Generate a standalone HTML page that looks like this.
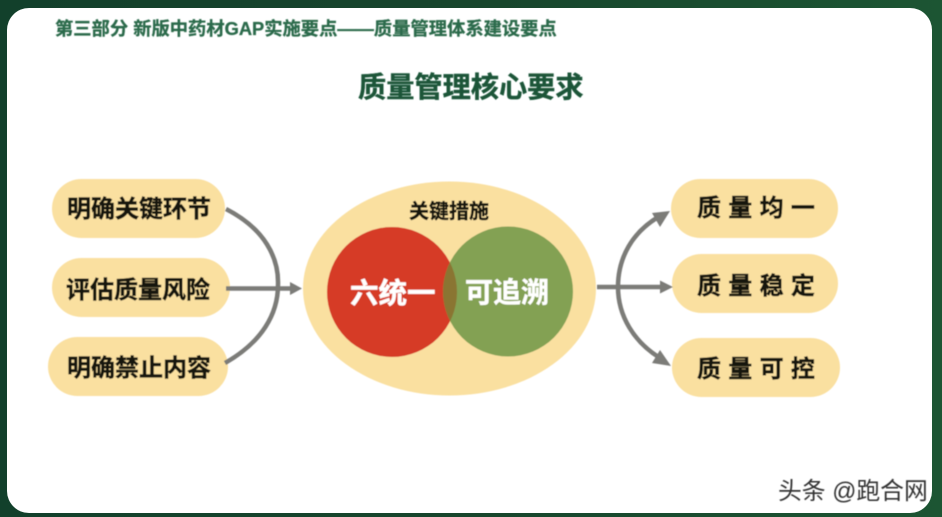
<!DOCTYPE html>
<html lang="zh">
<head>
<meta charset="utf-8">
<style>
html,body{margin:0;padding:0;background:#123f2a;}
svg{display:block;}
text{font-family:"Liberation Sans","Noto Sans CJK SC",sans-serif;font-weight:700;}
</style>
</head>
<body>
<svg width="942" height="517" viewBox="0 0 942 517" xmlns="http://www.w3.org/2000/svg">
<defs>
<linearGradient id="bg" x1="0" y1="0" x2="1" y2="0">
<stop offset="0" stop-color="#12402b"/>
<stop offset="0.5" stop-color="#17452c"/>
<stop offset="1" stop-color="#1c5533"/>
</linearGradient>
<filter id="soft" x="-5%" y="-5%" width="110%" height="110%"><feGaussianBlur stdDeviation="0.5"/></filter>
<clipPath id="redClip"><circle cx="392" cy="292" r="65"/></clipPath>
</defs>
<rect width="942" height="517" fill="url(#bg)"/>
<rect x="7" y="8" width="925" height="505" rx="22" fill="#ffffff"/>
<g filter="url(#soft)">
<text x="55" y="35" font-size="18.3" fill="#2c6a4b" stroke="#2c6a4b" stroke-width="0.3">第三部分 新版中药材GAP实施要点——质量管理体系建设要点</text>
<text x="358" y="97" font-size="28.2" fill="#1a5538" stroke="#1a5538" stroke-width="0.4">质量管理核心要求</text>

<rect x="52" y="179" width="173" height="59" rx="29.5" fill="#fae0a0"/>
<rect x="52" y="258" width="178" height="59" rx="29.5" fill="#fae0a0"/>
<rect x="48" y="337" width="180" height="59" rx="29.5" fill="#fae0a0"/>
<rect x="671" y="179" width="167" height="59" rx="29.5" fill="#fae0a0"/>
<rect x="672" y="254" width="166" height="59" rx="29.5" fill="#fae0a0"/>
<rect x="672" y="338" width="168" height="59" rx="29.5" fill="#fae0a0"/>

<g fill="#17150f" stroke="#17150f" stroke-width="0.5">
<text x="67" y="217" font-size="24">明确关键环节</text>
<text x="66" y="298" font-size="24">评估质量风险</text>
<text x="67" y="376" font-size="24">明确禁止内容</text>
<text x="697" y="216" font-size="24" letter-spacing="7.3">质量均一</text>
<text x="697" y="294" font-size="24" letter-spacing="7.3">质量稳定</text>
<text x="697" y="377" font-size="24" letter-spacing="7.3">质量可控</text>
</g>

<ellipse cx="449.5" cy="288.5" rx="146.5" ry="107" fill="#fae0a0"/>
<circle cx="392" cy="292" r="65" fill="#d63b27"/>
<circle cx="508" cy="291.5" r="65" fill="#83a152"/>
<circle cx="508" cy="291.5" r="65" fill="#8a7531" clip-path="url(#redClip)"/>
<text x="409" y="218" font-size="20" fill="#17150f" stroke="#17150f" stroke-width="0.4">关键措施</text>
<text x="350" y="303" font-size="28.5" fill="#ffffff" stroke="#ffffff" stroke-width="0.4">六统一</text>
<text x="465" y="302" font-size="28" fill="#ffffff" stroke="#ffffff" stroke-width="0.4">可追溯</text>

<g fill="none" stroke="#7b7b78" stroke-width="4.5">
<path d="M226 209 C265 229 279 258 278 285 C278 314 262 342 225 363"/>
<path d="M226 288.500 H292"/>
<path d="M597 287 H664"/>
<path d="M660 216 C632 232 618 258 618 287 C618 316 634 342 660 358"/>
</g>
<g fill="#7b7b78">
<polygon points="302,288.500 290,282 290,295"/>
<polygon points="673,287 660,280.500 660,293.500"/>
<polygon points="670,211 652,213 660,227"/>
<polygon points="671,366 660,350 652,363"/>
</g>

<text x="778" y="499" font-size="23.8" fill="#333" style="font-weight:400">头条 @跑合网</text>
</g>
</svg>
</body>
</html>
